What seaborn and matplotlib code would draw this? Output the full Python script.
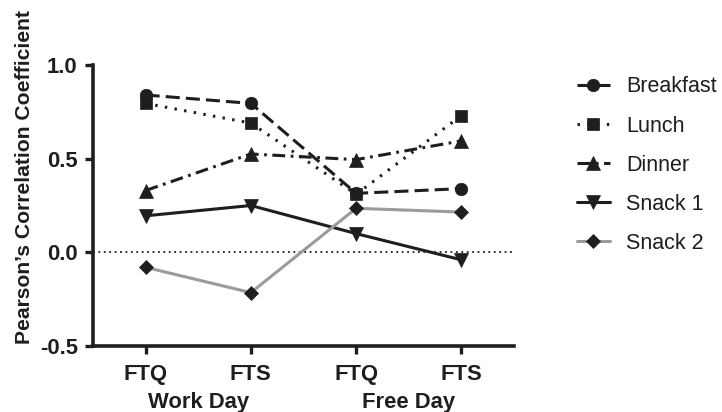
import matplotlib
matplotlib.use("Agg")
import matplotlib.pyplot as plt
import seaborn as sns
import pandas as pd

# chart values
positions = [0, 1, 2, 3]
tick_labels = ["FTQ", "FTS", "FTQ", "FTS"]
group_labels = ["Work Day", "Free Day"]
meals = ["Breakfast", "Lunch", "Dinner", "Snack 1", "Snack 2"]
breakfast = [0.84, 0.795, 0.315, 0.34]
lunch = [0.795, 0.69, 0.31, 0.73]
dinner = [0.33, 0.525, 0.495, 0.595]
snack1 = [0.195, 0.25, 0.10, -0.04]
snack2 = [-0.08, -0.215, 0.235, 0.215]

sns.set_style("ticks")
plt.rcParams['font.family'] = ['Liberation Sans', 'DejaVu Sans']

df = pd.DataFrame({
    "pos": positions * 5,
    "r": breakfast + lunch + dinner + snack1 + snack2,
    "meal": [m for m in meals for _ in positions],
})

black = "#1e1e1e"
grey = "#9b9b9b"
styles = {
    "Breakfast": dict(color=black, marker="o", ms=9, ls=(0, (4.6, 2.0))),
    "Lunch": dict(color=black, marker="s", ms=9, ls=(0, (0.8, 2.4))),
    "Dinner": dict(color=black, marker="^", ms=9.5, ls=(0, (4.2, 1.8, 0.9, 1.8))),
    "Snack 1": dict(color=black, marker="v", ms=9.5, ls="-"),
    "Snack 2": dict(color=grey, marker="D", ms=7, ls="-"),
}

fig = plt.figure(figsize=(7.22, 4.12), dpi=100)
ax = fig.add_axes([0.1288, 0.1602, 0.7119 - 0.1288, 0.8422 - 0.1602])

ax.axhline(0, color=black, lw=1.3, ls=(0, (1, 2)), zorder=1)

for m in meals:
    st = styles[m]
    sub = df[df.meal == m]
    sns.lineplot(data=sub, x="pos", y="r", ax=ax, color=st["color"],
                 marker=st["marker"], markersize=st["ms"], linewidth=2.2,
                 markerfacecolor=black, markeredgecolor=black, markeredgewidth=0.5,
                 label=m)
    line = ax.lines[-1]
    line.set_linestyle(st["ls"])
    line.set_clip_on(False)

ax.set_xlim(-0.5, 3.5)
ax.set_ylim(-0.5, 1.0)
ax.set_yticks([-0.5, 0.0, 0.5, 1.0])
ax.set_yticklabels(["-0.5", "0.0", "0.5", "1.0"])
ax.set_xticks(positions)
ax.set_xticklabels(tick_labels)
for sp in ["top", "right"]:
    ax.spines[sp].set_visible(False)
for sp in ["left", "bottom"]:
    ax.spines[sp].set_linewidth(2.6)
    ax.spines[sp].set_color(black)
ax.tick_params(axis="both", length=6, width=2.4, color=black, labelsize=15.8,
               labelcolor=black, pad=5)
ax.tick_params(axis="x", pad=7)
for lab in ax.get_xticklabels() + ax.get_yticklabels():
    lab.set_fontweight("bold")

ax.set_xlabel("")
ax.set_ylabel("Pearson\u2019s Correlation Coefficient", fontsize=15.2,
              fontweight="bold", color=black)
ax.yaxis.set_label_coords(-0.14, 0.602)

for i, g in enumerate(group_labels):
    ax.text(positions[2 * i] + 0.5, -0.165, g, transform=ax.get_xaxis_transform(),
            ha="center", va="top", fontsize=15.8, fontweight="bold", color=black)

handles, labels = ax.get_legend_handles_labels()
leg = ax.legend(handles, labels, loc="upper left", bbox_to_anchor=(1.13, 0.99),
                frameon=False, fontsize=15.5, handlelength=1.5, handletextpad=0.75,
                labelspacing=0.84, borderaxespad=0)
for t in leg.get_texts():
    t.set_color(black)

fig.savefig("out.png", dpi=100)
